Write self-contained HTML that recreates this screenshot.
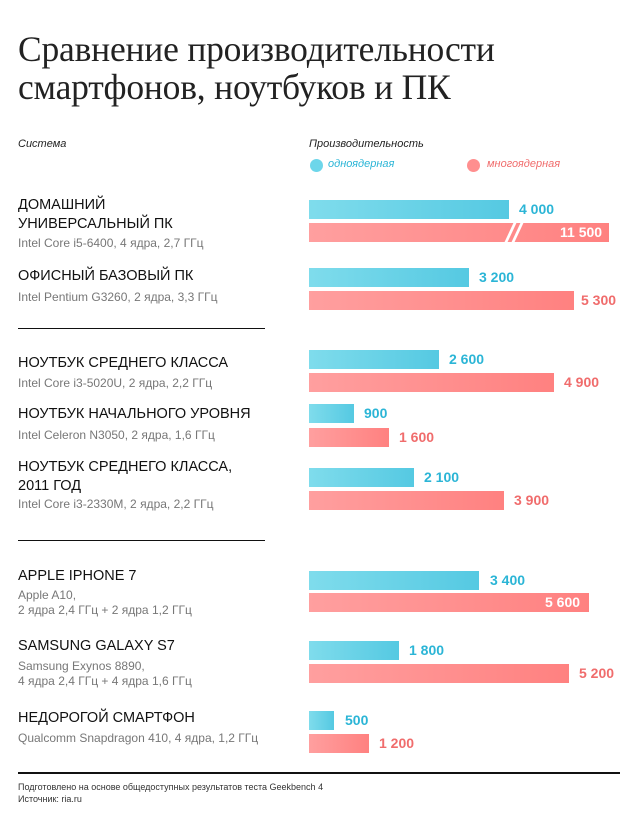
<!DOCTYPE html>
<html><head><meta charset="utf-8"><style>
body{margin:0;width:640px;height:813px;background:#fff;position:relative;font-family:"Liberation Sans",sans-serif;overflow:hidden}
.a{position:absolute;white-space:nowrap}
h1{position:absolute;left:18px;top:30px;margin:0;font:normal 35.5px/38px "Liberation Serif",serif;color:#222;letter-spacing:-0.2px}
.it{font-style:italic;font-size:11px;color:#222}
.n{font-size:14.5px;color:#111;line-height:19px}
.s{font-size:12px;color:#777}
.c{position:absolute;left:309px;height:19px;background:linear-gradient(90deg,#7fdcec,#55c9e2)}
.r{position:absolute;left:309px;height:19px;background:linear-gradient(90deg,#ff9f9f,#ff8180)}
.vc{position:absolute;font-size:14px;font-weight:bold;color:#2bb5d6}
.vr{position:absolute;font-size:14px;font-weight:bold;color:#f06c6c}
.hr{position:absolute;height:1px;background:#111}
</style></head><body>
<h1>Сравнение производительности<br>смартфонов, ноутбуков и ПК</h1>
<div class="a it" style="left:18px;top:138px">Система</div>
<div class="a it" style="left:309px;top:138px">Производительность</div>
<div class="a" style="left:310px;top:159px;width:13px;height:13px;border-radius:50%;background:#6dd6ea"></div>
<div class="a it" style="left:328px;top:158px;color:#2bb5d6">одноядерная</div>
<div class="a" style="left:467px;top:159px;width:13px;height:13px;border-radius:50%;background:#ff8f8f"></div>
<div class="a it" style="left:487px;top:158px;color:#f06c6c">многоядерная</div>

<div class="a n" style="left:18px;top:196px">ДОМАШНИЙ<br>УНИВЕРСАЛЬНЫЙ ПК</div>
<div class="a s" style="left:18px;top:236px">Intel Core i5-6400, 4 ядра, 2,7 ГГц</div>
<div class="c" style="top:200px;width:200px"></div><div class="vc" style="left:519px;top:201px">4 000</div>
<div class="r" style="top:223px;width:300px"></div>
<div class="a" style="left:509px;top:221px;width:3px;height:23px;background:#fff;transform:skewX(-25deg)"></div>
<div class="a" style="left:516px;top:221px;width:3px;height:23px;background:#fff;transform:skewX(-25deg)"></div>
<div class="vr" style="left:560px;top:224px;color:#fff">11 500</div>

<div class="a n" style="left:18px;top:267px">ОФИСНЫЙ БАЗОВЫЙ ПК</div>
<div class="a s" style="left:18px;top:290px">Intel Pentium G3260, 2 ядра, 3,3 ГГц</div>
<div class="c" style="top:268px;width:160px"></div><div class="vc" style="left:479px;top:269px">3 200</div>
<div class="r" style="top:291px;width:265px"></div><div class="vr" style="left:581px;top:292px">5 300</div>

<div class="hr" style="left:18px;top:328px;width:247px"></div>

<div class="a n" style="left:18px;top:354px">НОУТБУК СРЕДНЕГО КЛАССА</div>
<div class="a s" style="left:18px;top:376px">Intel Core i3-5020U, 2 ядра, 2,2 ГГц</div>
<div class="c" style="top:350px;width:130px"></div><div class="vc" style="left:449px;top:351px">2 600</div>
<div class="r" style="top:373px;width:245px"></div><div class="vr" style="left:564px;top:374px">4 900</div>

<div class="a n" style="left:18px;top:405px">НОУТБУК НАЧАЛЬНОГО УРОВНЯ</div>
<div class="a s" style="left:18px;top:428px">Intel Celeron N3050, 2 ядра, 1,6 ГГц</div>
<div class="c" style="top:404px;width:45px"></div><div class="vc" style="left:364px;top:405px">900</div>
<div class="r" style="top:428px;width:80px"></div><div class="vr" style="left:399px;top:429px">1 600</div>

<div class="a n" style="left:18px;top:458px">НОУТБУК СРЕДНЕГО КЛАССА,<br>2011 ГОД</div>
<div class="a s" style="left:18px;top:497px">Intel Core i3-2330M, 2 ядра, 2,2 ГГц</div>
<div class="c" style="top:468px;width:105px"></div><div class="vc" style="left:424px;top:469px">2 100</div>
<div class="r" style="top:491px;width:195px"></div><div class="vr" style="left:514px;top:492px">3 900</div>

<div class="hr" style="left:18px;top:540px;width:247px"></div>

<div class="a n" style="left:18px;top:567px">APPLE IPHONE 7</div>
<div class="a s" style="left:18px;top:588px;line-height:15px">Apple A10,<br>2 ядра 2,4 ГГц + 2 ядра 1,2 ГГц</div>
<div class="c" style="top:571px;width:170px"></div><div class="vc" style="left:490px;top:572px">3 400</div>
<div class="r" style="top:593px;width:280px"></div><div class="vr" style="left:545px;top:594px;color:#fff">5 600</div>

<div class="a n" style="left:18px;top:637px">SAMSUNG GALAXY S7</div>
<div class="a s" style="left:18px;top:659px;line-height:15px">Samsung Exynos 8890,<br>4 ядра 2,4 ГГц + 4 ядра 1,6 ГГц</div>
<div class="c" style="top:641px;width:90px"></div><div class="vc" style="left:409px;top:642px">1 800</div>
<div class="r" style="top:664px;width:260px"></div><div class="vr" style="left:579px;top:665px">5 200</div>

<div class="a n" style="left:18px;top:709px">НЕДОРОГОЙ СМАРТФОН</div>
<div class="a s" style="left:18px;top:731px">Qualcomm Snapdragon 410, 4 ядра, 1,2 ГГц</div>
<div class="c" style="top:711px;width:25px"></div><div class="vc" style="left:345px;top:712px">500</div>
<div class="r" style="top:734px;width:60px"></div><div class="vr" style="left:379px;top:735px">1 200</div>

<div class="hr" style="left:18px;top:772px;width:602px;height:2px"></div>
<div class="a" style="left:18px;top:782px;font-size:9px;color:#333">Подготовлено на основе общедоступных результатов теста Geekbench 4</div>
<div class="a" style="left:18px;top:794px;font-size:9px;color:#333">Источник: ria.ru</div>
</body></html>
